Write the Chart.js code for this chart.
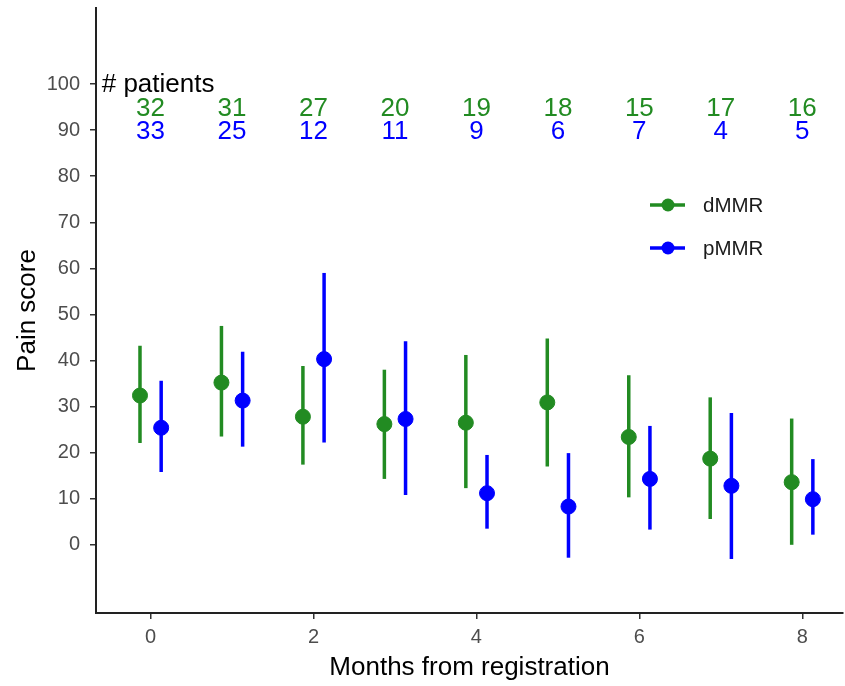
<!DOCTYPE html>
<html>
<head>
<meta charset="utf-8">
<script src="https://cdn.jsdelivr.net/npm/chart.js@4"></script>
<style>
  html, body { margin: 0; padding: 0; background: #ffffff; }
  #c { display: block; }
</style>
</head>
<body>
<canvas id="c" width="845" height="686"></canvas>
<script>
// ---- data ----
const months = [0, 1, 2, 3, 4, 5, 6, 7, 8];
const dMMR_mean = [32.4, 35.2, 27.8, 26.2, 26.5, 30.9, 23.4, 18.7, 13.6];
const dMMR_low  = [22.1, 23.5, 17.4, 14.3, 12.3, 17.0, 10.3, 5.6, 0.0];
const dMMR_high = [43.2, 47.5, 38.8, 38.0, 41.2, 44.8, 36.8, 32.0, 27.4];
const pMMR_mean = [25.4, 31.3, 40.3, 27.3, 11.2, 8.3, 14.3, 12.8, 9.9];
const pMMR_low  = [15.8, 21.3, 22.2, 10.8, 3.5, -2.8, 3.3, -3.1, 2.2];
const pMMR_high = [35.6, 41.9, 59.0, 44.2, 19.5, 19.9, 25.8, 28.6, 18.6];
const dMMR_n = [32, 31, 27, 20, 19, 18, 15, 17, 16];
const pMMR_n = [33, 25, 12, 11, 9, 6, 7, 4, 5];
const seriesNames = ['dMMR', 'pMMR'];
const yTickValues = [0, 10, 20, 30, 40, 50, 60, 70, 80, 90, 100];
const xTickValues = [0, 2, 4, 6, 8];
const headerLabel = '# patients';

// ---- styling ----
const GREEN = '#228B22';
const BLUE = '#0000FF';
const DODGE = 0.13;
const FONT = "'Liberation Sans', Arial, sans-serif";

function makeSeries(mean, low, high, shift) {
  return months.map((m, i) => ({ x: m + shift, y: mean[i], lo: low[i], hi: high[i] }));
}

const datasets = [
  { label: seriesNames[0], data: makeSeries(dMMR_mean, dMMR_low, dMMR_high, -DODGE),
    backgroundColor: GREEN, borderColor: GREEN, pointRadius: 7.5, pointHoverRadius: 7.5, showLine: false },
  { label: seriesNames[1], data: makeSeries(pMMR_mean, pMMR_low, pMMR_high, DODGE),
    backgroundColor: BLUE, borderColor: BLUE, pointRadius: 7.5, pointHoverRadius: 7.5, showLine: false }
];

const whiteBg = {
  id: 'whiteBg',
  beforeDraw(chart) {
    const ctx = chart.ctx;
    ctx.save();
    ctx.fillStyle = '#ffffff';
    ctx.fillRect(0, 0, chart.width, chart.height);
    ctx.restore();
  }
};

const errorBars = {
  id: 'errorBars',
  beforeDatasetsDraw(chart) {
    const ctx = chart.ctx;
    const xs = chart.scales.x, ys = chart.scales.y;
    ctx.save();
    chart.data.datasets.forEach(ds => {
      ctx.strokeStyle = ds.borderColor;
      ctx.lineWidth = 3.5;
      ctx.lineCap = 'butt';
      ds.data.forEach(p => {
        const px = xs.getPixelForValue(p.x);
        ctx.beginPath();
        ctx.moveTo(px, ys.getPixelForValue(p.lo));
        ctx.lineTo(px, ys.getPixelForValue(p.hi));
        ctx.stroke();
      });
    });
    ctx.restore();
  }
};

const countsText = {
  id: 'countsText',
  afterDatasetsDraw(chart) {
    const ctx = chart.ctx;
    const xs = chart.scales.x, ys = chart.scales.y;
    ctx.save();
    ctx.font = '26px ' + FONT;
    ctx.textBaseline = 'middle';
    ctx.textAlign = 'left';
    ctx.fillStyle = '#000000';
    ctx.fillText(headerLabel, xs.getPixelForValue(-0.6), ys.getPixelForValue(100) + 1);
    ctx.textAlign = 'center';
    months.forEach((m, i) => {
      ctx.fillStyle = GREEN;
      ctx.fillText(String(dMMR_n[i]), xs.getPixelForValue(m), ys.getPixelForValue(95) + 2);
      ctx.fillStyle = BLUE;
      ctx.fillText(String(pMMR_n[i]), xs.getPixelForValue(m), ys.getPixelForValue(90) + 2);
    });
    ctx.restore();
  }
};

const customLegend = {
  id: 'customLegend',
  afterDraw(chart) {
    const ctx = chart.ctx;
    const rows = [205, 248];
    ctx.save();
    chart.data.datasets.forEach((ds, i) => {
      const y = rows[i];
      ctx.strokeStyle = ds.borderColor;
      ctx.fillStyle = ds.backgroundColor;
      ctx.lineWidth = 3.5;
      ctx.beginPath();
      ctx.moveTo(650, y);
      ctx.lineTo(685, y);
      ctx.stroke();
      ctx.beginPath();
      ctx.arc(668, y, 6.5, 0, Math.PI * 2);
      ctx.fill();
      ctx.fillStyle = '#1a1a1a';
      ctx.font = '20.5px ' + FONT;
      ctx.textAlign = 'left';
      ctx.textBaseline = 'middle';
      ctx.fillText(ds.label, 703, y + 1);
    });
    ctx.restore();
  }
};

new Chart(document.getElementById('c'), {
  type: 'scatter',
  data: { datasets },
  options: {
    responsive: false,
    animation: false,
    events: [],
    layout: { autoPadding: false, padding: { top: 8, right: 2, left: 0, bottom: 0 } },
    plugins: { legend: { display: false }, tooltip: { enabled: false } },
    scales: {
      x: {
        type: 'linear',
        min: -0.67,
        max: 8.5,
        afterBuildTicks: s => { s.ticks = xTickValues.map(v => ({ value: v })); },
        afterFit: s => { s.height = 73; s.paddingLeft = 0; s.paddingRight = 0; },
        grid: { drawOnChartArea: false, tickLength: 6, color: '#333333', lineWidth: 1.5 },
        border: { color: '#222222', width: 2 },
        ticks: { color: '#4D4D4D', font: { family: FONT, size: 20 }, padding: 6,
                 callback: v => String(v) },
        title: { display: true, text: 'Months from registration', color: '#000000',
                 font: { family: FONT, size: 26 }, padding: { top: 0, bottom: 3 } }
      },
      y: {
        type: 'linear',
        min: -14.8,
        max: 116.5,
        afterBuildTicks: s => { s.ticks = yTickValues.map(v => ({ value: v })); },
        afterFit: s => { s.width = 96; s.paddingTop = 0; s.paddingBottom = 0; },
        grid: { drawOnChartArea: false, tickLength: 6, color: '#333333', lineWidth: 1.5 },
        border: { color: '#222222', width: 2 },
        ticks: { color: '#4D4D4D', font: { family: FONT, size: 20 }, padding: 10,
                 callback: v => String(v) },
        title: { display: true, text: 'Pain score', color: '#000000',
                 font: { family: FONT, size: 26 }, padding: { top: 12, bottom: 0 } }
      }
    }
  },
  plugins: [whiteBg, errorBars, countsText, customLegend]
});
</script>
</body>
</html>
